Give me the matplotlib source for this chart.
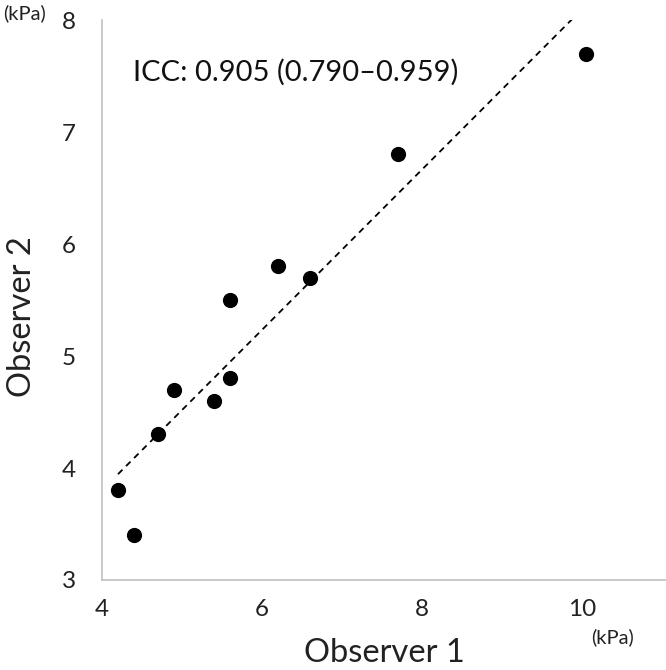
import numpy as np
import matplotlib
matplotlib.use("Agg")
import matplotlib.pyplot as plt

plt.rcParams['font.family'] = ['Lato', 'DejaVu Sans']

observer1 = [4.2, 4.4, 4.7, 4.9, 5.4, 5.6, 5.6, 6.2, 6.6, 7.7, 10.05]
observer2 = [3.8, 3.4, 4.3, 4.7, 4.6, 4.8, 5.5, 5.8, 5.7, 6.8, 7.7]
x_ticks = [4, 6, 8, 10]
y_ticks = [3, 4, 5, 6, 7, 8]
icc_label = "ICC: 0.905 (0.790\u20130.959)"

W, H = 666, 670
fig = plt.figure(figsize=(W / 100, H / 100), dpi=100)
ax = fig.add_axes([102 / W, 90 / H, 564 / W, 560 / H])

ax.scatter(observer1, observer2, s=120, color='black', zorder=3, linewidths=0)

slope, intercept = np.polyfit(observer1, observer2, 1)
xs = np.array([min(observer1), max(observer1)])
ax.plot(xs, slope * xs + intercept, color='black', lw=1.3,
        linestyle=(0, (3.5, 2.8)), zorder=2)

ax.set_xlim(4, 11.05)
ax.set_ylim(3, 8)
ax.set_xticks(x_ticks)
ax.set_yticks(y_ticks)
ax.tick_params(length=0, labelsize=17.5, pad=14, colors='#222222')
ax.tick_params(axis='y', pad=19)
for s in ['top', 'right']:
    ax.spines[s].set_visible(False)
for s in ['left', 'bottom']:
    ax.spines[s].set_color('#c0c0c0')
    ax.spines[s].set_linewidth(1.2)

ax.text(133 / W, 1 - 72 / H, icc_label, transform=fig.transFigure,
        fontsize=21, va='center', ha='left', color='#111111')

fig.text(24 / W, 1 - 13 / H, "(kPa)", fontsize=14.5, ha='center', va='center', color='#222222')
fig.text(612 / W, 1 - 637 / H, "(kPa)", fontsize=14.5, ha='center', va='center', color='#222222')
fig.text(384 / W, 1 - 653 / H, "Observer 1", fontsize=23.5, ha='center', va='center', color='#222222')
fig.text(22 / W, 1 - 317 / H, "Observer 2", fontsize=23.5, ha='center', va='center',
         rotation=90, color='#222222')

fig.savefig("out.png", dpi=100)
